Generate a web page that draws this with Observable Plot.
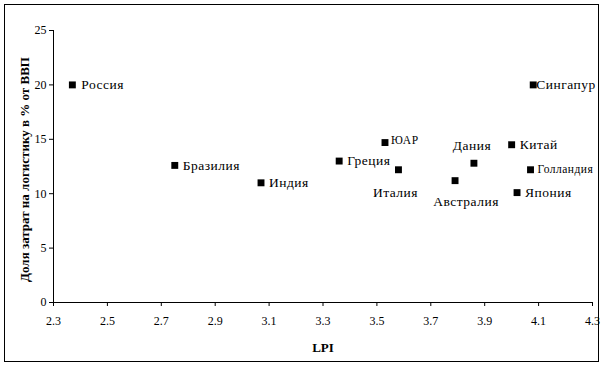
<!DOCTYPE html>
<html>
<head>
<meta charset="utf-8">
<script src="https://cdn.jsdelivr.net/npm/d3@7"></script>
<script src="https://cdn.jsdelivr.net/npm/@observablehq/plot@0.6"></script>
<style>
  html, body { margin: 0; padding: 0; background: #fff; }
  #wrap { position: relative; width: 604px; height: 366px; overflow: hidden; }
  #frame { position: absolute; left: 4px; top: 4px; width: 593px; height: 356px; border: 1px solid #000; pointer-events: none; }
  #chart svg { display: block; font-family: "Liberation Serif", serif !important; }
  #chart svg text, #chart svg g { font-family: "Liberation Serif", serif !important; }
  #chart svg .lbl text { letter-spacing: 0.5px; }
</style>
</head>
<body>
<div id="wrap"><div id="chart"></div><div id="frame"></div></div>
<script>
const countries = ["Россия", "Бразилия", "Индия", "Греция", "ЮАР", "Италия", "Австралия", "Дания", "Китай", "Голландия", "Япония", "Сингапур"];
const lpi  = [2.37, 2.75, 3.07, 3.36, 3.53, 3.58, 3.79, 3.86, 4.00, 4.07, 4.02, 4.08];
const cost = [20.0, 12.6, 11.0, 13.0, 14.7, 12.2, 11.2, 12.8, 14.5, 12.2, 10.1, 20.0];
const xTicks = [2.3, 2.5, 2.7, 2.9, 3.1, 3.3, 3.5, 3.7, 3.9, 4.1, 4.3];
const yTicks = [0, 5, 10, 15, 20, 25];
const xTitle = "LPI";
const yTitle = "Доля затрат на логистику в % от ВВП";

const data = countries.map((c, i) => ({country: c, x: lpi[i], y: cost[i]}));

// label placement (style): [dx, dy, anchor, fontSize]
const place = {
  "Россия":    [9, 0, "start", 13.5],
  "Бразилия":  [8, 0, "start", 13.5],
  "Индия":     [8, 0, "start", 13.5],
  "Греция":    [8, 0, "start", 13.5],
  "ЮАР":       [6, -2, "start", 11.5],
  "Италия":    [-3, 23, "middle", 13.5],
  "Австралия": [11, 21, "middle", 13.5],
  "Дания":     [-2, -18, "middle", 13.5],
  "Китай":     [8, 0, "start", 13.5],
  "Голландия": [7, 0, "start", 11.5],
  "Япония":    [8, 0, "start", 13.5],
  "Сингапур":  [3, 0, "start", 13.5]
};

const labelMarks = data.map(d => {
  const [dx, dy, anchor, fs] = place[d.country];
  return Plot.text([d], {x: "x", y: "y", text: "country", dx, dy, textAnchor: anchor, fontSize: fs, fill: "#000", className: "lbl"});
});

const chart = Plot.plot({
  width: 604,
  height: 366,
  marginLeft: 53,
  marginRight: 12,
  marginTop: 30,
  marginBottom: 64,
  style: {fontFamily: "Liberation Serif", fontSize: "12px", color: "#000", background: "transparent"},
  x: {domain: [2.3, 4.3], ticks: xTicks, tickFormat: d => d.toFixed(1)},
  y: {domain: [0, 25], ticks: yTicks},
  marks: [
    Plot.axisX({ticks: xTicks, tickFormat: d => d.toFixed(1), tickSize: 4, tickPadding: 10, label: null, fontSize: 12}),
    Plot.axisY({ticks: yTicks, tickSize: 4, tickPadding: 3, label: null, fontSize: 12}),
    Plot.ruleY([0], {stroke: "#000"}),
    Plot.ruleX([2.3], {stroke: "#000"}),
    Plot.dot(data, {x: "x", y: "y", symbol: "square", r: 3.9, fill: "#000", stroke: null}),
    ...labelMarks,
    Plot.text([xTitle], {frameAnchor: "bottom", textAnchor: "middle", lineAnchor: "middle", dy: 45, fontWeight: "bold", fontSize: 13}),
    Plot.text([yTitle], {frameAnchor: "left", textAnchor: "middle", lineAnchor: "middle", dx: -29, dy: 3, rotate: -90, fontWeight: "bold", fontSize: 13})
  ]
});
document.getElementById("chart").appendChild(chart);
</script>
</body>
</html>
